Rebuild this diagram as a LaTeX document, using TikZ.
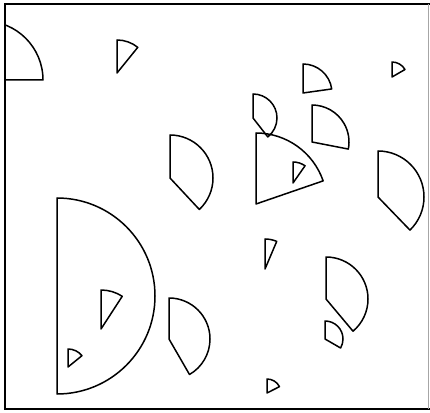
\documentclass[tikz,border=0pt]{standalone}
\usepackage{tikz}

\begin{document}
\begin{tikzpicture}[x=1pt,y=1pt,
   wedge/.style={draw,line width=1.5pt,line join=round},
   frame/.style={line width=1.6pt}]
  \useasboundingbox (0,0) rectangle (430,412);
  % frame
  \draw[frame] (430,408) -- (5,408) -- (5,3) -- (430,3);
  \draw[line width=0.5pt,black!35] (428,408) -- (428,3);
  % clipped piece in the corner
  \begin{scope}
    \clip (5,3) rectangle (428,408);
    \draw[wedge] (-16,332) -- ++(90:59) arc[start angle=90,end angle=0,radius=59] -- cycle;
  \end{scope}
  % sectors: centre x / centre y / radius / end angle
  \foreach \cx/\cy/\r/\a in {
      117/339/33/51, 170/234/43/-47, 57/116/98/-90, 101/83/39/57,
      68/45/18/39, 169/73/41/-60, 265/143/30/67, 326/113/42/-50,
      325/73/18/-30, 267/19/14/27, 303/319/29/8, 392/335/15/30,
      253/294/24/-52, 256/208/71/19, 293/229/21/55, 312/270/37/-11,
      378/215/46/-46}
    \draw[wedge] (\cx,\cy) -- ++(90:\r) arc[start angle=90,end angle=\a,radius=\r] -- cycle;
\end{tikzpicture}
\end{document}
